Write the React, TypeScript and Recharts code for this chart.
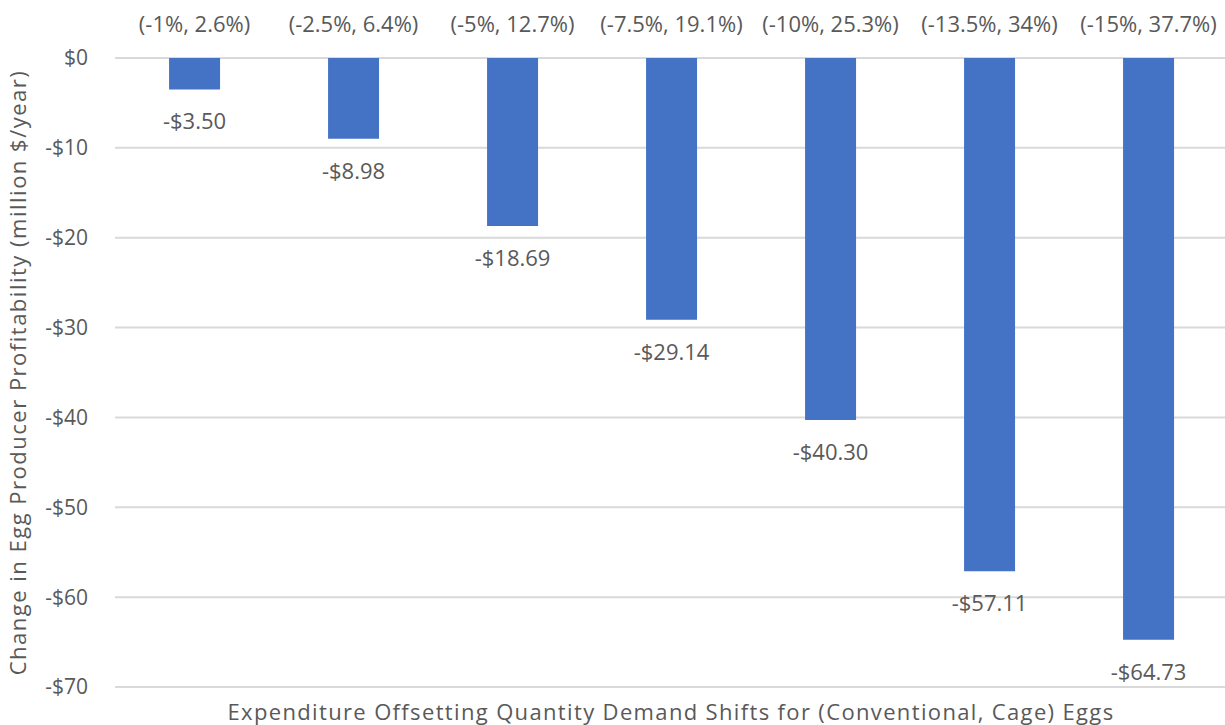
import React from "react";
import { BarChart, Bar, XAxis, YAxis, CartesianGrid, LabelList, Label } from "recharts";

const categories = ["(-1%, 2.6%)", "(-2.5%, 6.4%)", "(-5%, 12.7%)", "(-7.5%, 19.1%)", "(-10%, 25.3%)", "(-13.5%, 34%)", "(-15%, 37.7%)"];
const profitChange = [-3.5, -8.98, -18.69, -29.14, -40.3, -57.11, -64.73];
const yTicks = [0, -10, -20, -30, -40, -50, -60, -70];

const data = categories.map((c, i) => ({ name: c, value: profitChange[i] }));

const FONT = "'Open Sans', Lato, sans-serif";
const TEXT = "#595959";

const fmtMoney = (v: number) => (v === 0 ? "$0" : `${v < 0 ? "-" : ""}$${Math.abs(v)}`);
const fmtLabel = (v: number) => `${v < 0 ? "-" : ""}$${Math.abs(v).toFixed(2)}`;

const BottomLabel = (props: any) => {
  const { x, y, width, height, value } = props;
  const bottom = Math.max(y, y + height);
  return (
    <text x={x + width / 2} y={bottom + 31} textAnchor="middle" dominantBaseline="central" fill={TEXT} fontSize={22} fontFamily={FONT}>
      {fmtLabel(value)}
    </text>
  );
};

export default function App() {
  return (
    <div style={{ position: "absolute", left: 0, top: 0, width: 1225, height: 725, background: "#fff" }}>
      <BarChart width={1225} height={725} data={data} margin={{ top: 0, right: -3, bottom: 38, left: 0 }} barCategoryGap="34%">
        <CartesianGrid horizontal vertical={false} stroke="#d9d9d9" strokeWidth={2} />
        <XAxis
          dataKey="name"
          orientation="top"
          height={58}
          axisLine={false}
          tickLine={false}
          interval={0}
          tick={{ fill: TEXT, fontSize: 22, fontFamily: FONT }}
          tickMargin={20}
        />
        <YAxis
          domain={[-70, 0]}
          ticks={yTicks}
          tickFormatter={fmtMoney}
          width={115}
          axisLine={false}
          tickLine={false}
          tickMargin={21}
          tick={{ fill: TEXT, fontSize: 21, fontFamily: FONT }}
        >
          <Label
            value="Change in Egg Producer Profitability (million $/year)"
            angle={-90}
            position="insideLeft"
            offset={18}
            style={{ textAnchor: "middle", fill: TEXT, fontSize: 22, fontFamily: FONT, letterSpacing: 1.5 }}
          />
        </YAxis>
        <Bar dataKey="value" fill="#4472C4" isAnimationActive={false}>
          <LabelList dataKey="value" content={BottomLabel} />
        </Bar>
        <text x={671} y={711} textAnchor="middle" dominantBaseline="central" fill={TEXT} fontSize={22} fontFamily={FONT} letterSpacing={1.35}>
          Expenditure Offsetting Quantity Demand Shifts for (Conventional, Cage) Eggs
        </text>
      </BarChart>
    </div>
  );
}
